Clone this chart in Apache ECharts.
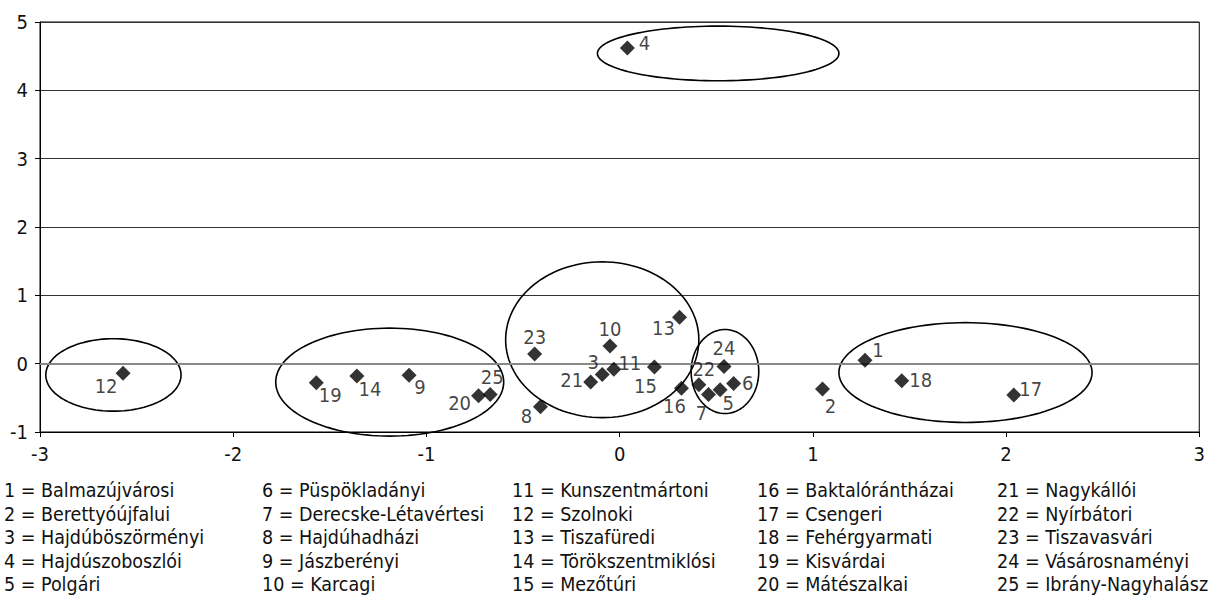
<!DOCTYPE html>
<html>
<head>
<meta charset="utf-8">
<script src="https://cdn.jsdelivr.net/npm/echarts@6/dist/echarts.min.js"></script>
<style>
html,body{margin:0;padding:0;background:#fff;}
#chart{width:1208px;height:597px;}
</style>
</head>
<body>
<div id="chart"></div>
<script>
// ---- data ----
var pointIds = ['1','2','3','4','5','6','7','8','9','10','11','12','13','14','15','16','17','18','19','20','21','22','23','24','25'];
var xValues = [1.27, 1.05, -0.09, 0.04, 0.52, 0.59, 0.46, -0.41, -1.09, -0.05, -0.03, -2.57, 0.31, -1.36, 0.18, 0.32, 2.04, 1.46, -1.57, -0.73, -0.15, 0.41, -0.44, 0.54, -0.67];
var yValues = [0.05, -0.37, -0.16, 4.62, -0.38, -0.29, -0.45, -0.63, -0.17, 0.26, -0.08, -0.14, 0.68, -0.18, -0.05, -0.36, -0.46, -0.25, -0.28, -0.47, -0.27, -0.31, 0.14, -0.04, -0.45];
var regionNames = ['Balmazújvárosi','Berettyóújfalui','Hajdúböszörményi','Hajdúszoboszlói','Polgári','Püspökladányi','Derecske-Létavértesi','Hajdúhadházi','Jászberényi','Karcagi','Kunszentmártoni','Szolnoki','Tiszafüredi','Törökszentmiklósi','Mezőtúri','Baktalórántházai','Csengeri','Fehérgyarmati','Kisvárdai','Mátészalkai','Nagykállói','Nyírbátori','Tiszavasvári','Vásárosnaményi','Ibrány-Nagyhalász'];
// cluster ellipses: centre x, centre y, radius x, radius y (data units)
var ellipseCx = [-2.62, -1.19, -0.09, 0.545, 1.79, 0.51];
var ellipseCy = [-0.165, -0.27, 0.35, -0.115, -0.13, 4.54];
var ellipseRx = [0.35, 0.59, 0.50, 0.175, 0.655, 0.625];
var ellipseRy = [0.53, 0.79, 1.14, 0.615, 0.73, 0.40];
var xTicks = [-3, -2, -1, 0, 1, 2, 3];
var yTicks = [-1, 0, 1, 2, 3, 4, 5];

// ---- label placement (pixel offsets from point) ----
var labelOffsets = [[13,-10],[8,17],[-9,-13],[17,-5],[8,13],[14,0],[-7,19],[-14,9],[11,12],[0,-17],[16,-6],[-17,13],[-16,11],[13,13],[-9,19],[-7,18],[17,-6],[19,-1],[14,12],[-19,7],[-19,-2],[5,-16],[0,-17],[0,-18],[2,-17]];

var FONT = "'Liberation Sans Narrow','DejaVu Sans Condensed','Liberation Sans',sans-serif";

var scatterData = pointIds.map(function (id, i) {
  return {
    name: id,
    value: [xValues[i], yValues[i]],
    label: { offset: labelOffsets[i] }
  };
});
var ellipseData = ellipseCx.map(function (c, i) {
  return [ellipseCx[i], ellipseCy[i], ellipseRx[i], ellipseRy[i]];
});

// legend text
var colX = [4, 262, 512, 757, 997];
var rowY = [491, 515, 538, 562, 585];
var legendGraphics = regionNames.map(function (n, i) {
  var c = Math.floor(i / 5), r = i % 5;
  return {
    type: 'text',
    left: colX[c],
    top: rowY[r] - 11,
    style: { text: pointIds[i] + ' = ' + n, font: '19.5px ' + FONT, fill: '#111' }
  };
});

var chart = echarts.init(document.getElementById('chart'), null, { renderer: 'svg' });
chart.setOption({
  animation: false,
  backgroundColor: '#fff',
  grid: { left: 40, right: 6, top: 22, bottom: 165, show: true, borderColor: '#000', borderWidth: 1 },
  xAxis: {
    type: 'value', min: -3, max: 3, interval: 1,
    axisLine: { show: true, onZero: false, lineStyle: { color: '#000' } },
    axisTick: { show: true, length: 5, lineStyle: { color: '#000' } },
    axisLabel: { fontFamily: FONT, fontSize: 20, color: '#111', margin: 12 },
    splitLine: { show: false }
  },
  yAxis: {
    type: 'value', min: -1, max: 5, interval: 1,
    axisLine: { show: true, onZero: false, lineStyle: { color: '#000' } },
    axisTick: { show: true, length: 5, lineStyle: { color: '#000' } },
    axisLabel: { fontFamily: FONT, fontSize: 20, color: '#111', margin: 12 },
    splitLine: { show: true, lineStyle: { color: '#333', width: 1 } }
  },
  graphic: legendGraphics,
  series: [
    {
      type: 'custom',
      silent: true,
      data: ellipseData,
      encode: { x: 0, y: 1 },
      renderItem: function (params, api) {
        var cx = api.value(0), cy = api.value(1), rx = api.value(2), ry = api.value(3);
        var pts = [];
        for (var k = 0; k < 120; k++) {
          var t = k / 120 * Math.PI * 2;
          pts.push(api.coord([cx + rx * Math.cos(t), cy + ry * Math.sin(t)]));
        }
        return {
          type: 'polygon',
          shape: { points: pts },
          style: { fill: 'none', stroke: '#000', lineWidth: 1.6 }
        };
      },
      z: 3
    },
    {
      type: 'scatter',
      symbol: 'diamond',
      symbolSize: 15,
      itemStyle: { color: '#000' },
      data: scatterData,
      label: {
        show: true,
        position: 'inside',
        formatter: '{b}',
        fontFamily: FONT,
        fontSize: 20,
        color: '#111',
        align: 'center',
        verticalAlign: 'middle'
      },
      markLine: {
        silent: true,
        symbol: 'none',
        label: { show: false },
        lineStyle: { color: '#888', width: 2, type: 'solid' },
        data: [{ yAxis: 0 }]
      },
      z: 5
    }
  ]
});
</script>
</body>
</html>
